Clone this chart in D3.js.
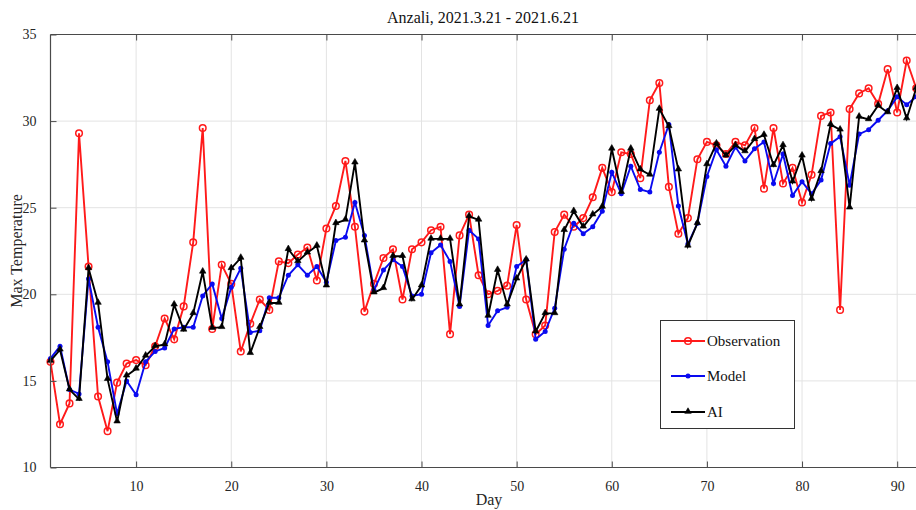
<!DOCTYPE html>
<html>
<head>
<meta charset="utf-8">
<script src="https://cdn.jsdelivr.net/npm/d3@7"></script>
<style>
  html, body { margin: 0; padding: 0; background: #fff; }
  svg { display: block; font-family: "Liberation Serif", "DejaVu Serif", serif; }
</style>
</head>
<body>
<svg id="chart" width="916" height="510"></svg>
<script>
const days = d3.range(1, 93);
const observation = [16.1,12.5,13.7,29.3,21.6,14.1,12.1,14.9,16.0,16.2,
  15.9,17.0,18.6,17.4,19.3,23.0,29.6,18.0,21.7,20.6,
  16.7,18.3,19.7,19.1,21.9,21.8,22.3,22.7,20.8,23.8,
  25.1,27.7,23.9,19.0,20.6,22.1,22.6,19.7,22.6,23.0,
  23.7,23.9,17.7,23.4,24.6,21.1,20.0,20.2,20.5,24.0,
  19.7,17.7,18.2,23.6,24.6,23.9,24.4,25.6,27.3,25.9,
  28.2,28.1,26.7,31.2,32.2,26.2,23.5,24.4,27.8,28.8,
  28.6,28.1,28.8,28.6,29.6,26.1,29.6,26.4,27.3,25.3,
  26.9,30.3,30.5,19.1,30.7,31.6,31.9,31.0,33.0,30.5,
  33.5,31.9];
const model = [16.3,17.0,14.5,14.25,20.9,18.1,16.1,13.1,15.0,14.2,
  16.1,16.7,16.9,18.0,18.1,18.1,19.9,20.6,18.6,20.4,
  21.5,17.8,17.9,19.8,19.8,21.1,21.7,21.1,21.6,20.7,
  23.1,23.3,25.3,23.4,20.25,21.4,22.0,21.6,19.9,20.0,
  22.4,22.85,21.9,19.3,23.7,23.2,18.2,19.05,19.25,21.6,
  22.0,17.4,17.85,19.2,22.6,24.1,23.5,23.9,24.8,27.05,
  25.8,27.4,26.05,25.9,28.2,29.8,25.1,22.9,24.1,26.8,
  28.35,27.4,28.5,27.7,28.4,28.8,26.4,28.1,25.7,26.5,
  25.8,26.6,28.7,29.1,26.3,29.25,29.5,30.05,30.6,31.4,
  30.95,31.4];
const ai = [16.15,16.8,14.5,13.95,21.5,19.5,15.1,12.65,15.3,15.7,
  16.45,17.0,17.1,19.4,17.95,18.9,21.3,18.05,18.1,21.5,
  22.1,16.6,18.1,19.5,19.5,22.6,21.9,22.4,22.8,20.5,
  24.1,24.3,27.6,23.1,20.1,20.35,22.2,22.2,19.7,20.5,
  23.2,23.2,23.2,19.4,24.5,24.3,18.75,21.4,19.4,20.9,
  22.0,17.85,18.9,18.9,23.7,24.8,23.9,24.6,25.05,28.4,
  25.9,28.4,27.2,26.9,30.7,29.7,27.2,22.8,24.1,27.5,
  28.7,28.0,28.6,28.25,28.95,29.2,27.45,28.6,26.5,28.0,
  25.5,27.1,29.8,29.5,25.0,30.25,30.1,30.9,30.5,31.9,
  30.15,31.9];
const xTicks = [10,20,30,40,50,60,70,80,90];
const yTicks = [10,15,20,25,30,35];
const seriesNames = ["Observation","Model","AI"];
const titleText = "Anzali, 2021.3.21 - 2021.6.21";

const svg = d3.select("#chart");
const L = 50.5, R = 916.2, T = 34.5, B = 467.5;
const x = d3.scaleLinear().domain([1, 92]).range([L, R]);
const y = d3.scaleLinear().domain([10, 35]).range([B, T]);

const axisColor = "#4a4a4a";
const gridColor = "#e3e3e3";

// grid
const grid = svg.append("g");
grid.selectAll("line.gx").data(xTicks).join("line")
  .attr("x1", d => x(d)).attr("x2", d => x(d))
  .attr("y1", T).attr("y2", B)
  .attr("stroke", gridColor).attr("stroke-width", 1);
grid.selectAll("line.gy").data(yTicks.slice(1, -1)).join("line")
  .attr("x1", L).attr("x2", R)
  .attr("y1", d => y(d)).attr("y2", d => y(d))
  .attr("stroke", gridColor).attr("stroke-width", 1);

svg.append("defs").append("clipPath").attr("id", "clip")
  .append("rect").attr("x", L - 6).attr("y", T - 8).attr("width", R - L + 12).attr("height", B - T + 16);

const plot = svg.append("g").attr("clip-path", "url(#clip)");

const line = d3.line().x((d, i) => x(days[i])).y(d => y(d));

const series = [
  {name: seriesNames[0], values: observation, color: "#ff1a1a", marker: "circle"},
  {name: seriesNames[1], values: model, color: "#0a0af0", marker: "dot"},
  {name: seriesNames[2], values: ai, color: "#000000", marker: "tri"}
];

const triPath = d3.symbol().type(d3.symbolTriangle).size(18)();

function drawMarker(g, s, cx, cy) {
  if (s.marker === "circle") {
    g.append("circle").attr("cx", cx).attr("cy", cy).attr("r", 3.3)
      .attr("fill", "none").attr("stroke", s.color).attr("stroke-width", 1.5);
  } else if (s.marker === "dot") {
    g.append("circle").attr("cx", cx).attr("cy", cy).attr("r", 2.5)
      .attr("fill", s.color);
  } else {
    g.append("path").attr("d", triPath).attr("transform", `translate(${cx},${cy - 0.5})`)
      .attr("fill", s.color).attr("stroke", s.color).attr("stroke-width", 0.6);
  }
}

series.forEach(s => {
  plot.append("path").datum(s.values)
    .attr("d", line).attr("fill", "none")
    .attr("stroke", s.color).attr("stroke-width", 1.9)
    .attr("stroke-linejoin", "miter");
  const mg = plot.append("g");
  s.values.forEach((v, i) => drawMarker(mg, s, x(days[i]), y(v)));
});

// axes box
const ax = svg.append("g");
ax.append("line").attr("x1", L).attr("x2", R).attr("y1", B).attr("y2", B).attr("stroke", axisColor).attr("stroke-width", 1.2);
ax.append("line").attr("x1", L).attr("x2", R).attr("y1", T).attr("y2", T).attr("stroke", axisColor).attr("stroke-width", 1.2);
ax.append("line").attr("x1", L).attr("x2", L).attr("y1", T).attr("y2", B).attr("stroke", axisColor).attr("stroke-width", 1.2);

// x ticks (inward, bottom and top)
const xAxisB = d3.axisBottom(x).tickValues(xTicks).tickSizeInner(-6).tickSizeOuter(0).tickPadding(14);
const gxb = svg.append("g").attr("transform", `translate(0,${B})`).call(xAxisB);
gxb.select(".domain").remove();
gxb.selectAll(".tick line").attr("stroke", axisColor);
gxb.selectAll(".tick text").attr("fill", "#262626").style("font-size", "14px").style("font-family", "Liberation Serif, serif");

const xAxisT = d3.axisTop(x).tickValues(xTicks).tickSizeInner(-6).tickSizeOuter(0).tickFormat("");
const gxt = svg.append("g").attr("transform", `translate(0,${T})`).call(xAxisT);
gxt.select(".domain").remove();
gxt.selectAll(".tick line").attr("stroke", axisColor);

const yAxis = d3.axisLeft(y).tickValues(yTicks).tickSizeInner(-6).tickSizeOuter(0).tickPadding(14);
const gy = svg.append("g").attr("transform", `translate(${L},0)`).call(yAxis);
gy.select(".domain").remove();
gy.selectAll(".tick line").attr("stroke", axisColor);
gy.selectAll(".tick text").attr("fill", "#262626").style("font-size", "14px").style("font-family", "Liberation Serif, serif");

// title & labels
svg.append("text").attr("x", 483).attr("y", 23).attr("text-anchor", "middle")
  .attr("fill", "#111").style("font-size", "16px").text(titleText);
svg.append("text").attr("x", 489).attr("y", 505).attr("text-anchor", "middle")
  .attr("fill", "#262626").style("font-size", "16px").text("Day");
svg.append("text").attr("transform", "translate(22,251) rotate(-90)").attr("text-anchor", "middle")
  .attr("fill", "#262626").style("font-size", "16px").text("Max Temperature");

// legend
const lg = svg.append("g");
lg.append("rect").attr("x", 660.5).attr("y", 320.5).attr("width", 134).attr("height", 108)
  .attr("fill", "#fff").attr("stroke", "#333").attr("stroke-width", 1);
const legY = [341, 376, 412];
series.forEach((s, i) => {
  const yy = legY[i];
  lg.append("line").attr("x1", 671).attr("x2", 705).attr("y1", yy).attr("y2", yy)
    .attr("stroke", s.color).attr("stroke-width", 2);
  drawMarker(lg, s, 688, yy);
  lg.append("text").attr("x", 707).attr("y", yy + 5).attr("fill", "#111")
    .style("font-size", "15px").text(s.name);
});
</script>
</body>
</html>
